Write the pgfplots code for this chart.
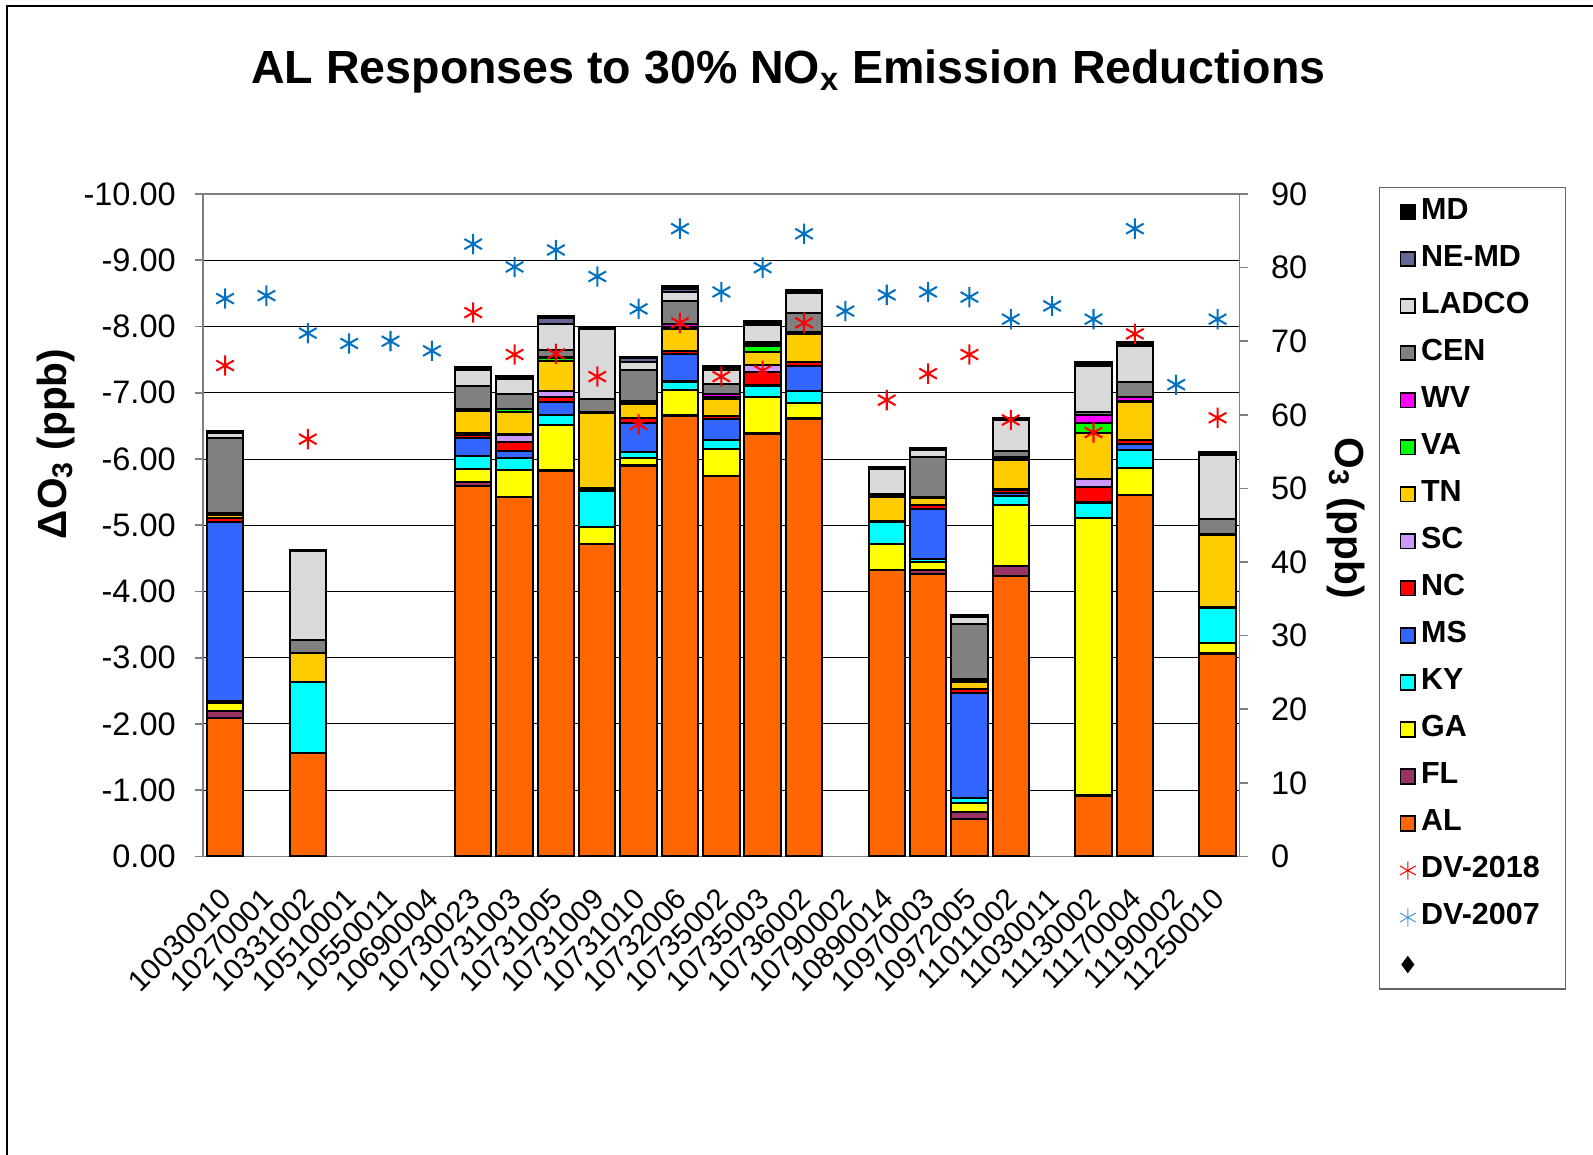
\documentclass[border=0pt]{standalone}
\usepackage{fontspec}
\setmainfont{Liberation Sans}
\usepackage{pgfplots}
\pgfplotsset{compat=1.18}
\usepackage{pgfplotstable}

\definecolor{cAL}{HTML}{FF6600}
\definecolor{cFL}{HTML}{993366}
\definecolor{cGA}{HTML}{FFFF00}
\definecolor{cKY}{HTML}{00FFFF}
\definecolor{cMS}{HTML}{3366FF}
\definecolor{cNC}{HTML}{FF0000}
\definecolor{cSC}{HTML}{CC99FF}
\definecolor{cTN}{HTML}{FFCC00}
\definecolor{cVA}{HTML}{00FF00}
\definecolor{cWV}{HTML}{FF00FF}
\definecolor{cCEN}{HTML}{808080}
\definecolor{cLADCO}{HTML}{D9D9D9}
\definecolor{cNEMD}{HTML}{666699}
\definecolor{cMD}{HTML}{000000}
\definecolor{cDVb}{HTML}{0070C0}
\definecolor{axgray}{HTML}{808080}

\pgfplotsset{
  legsq/.style={legend image code/.code={\draw[##1,draw=black,line width=0.9pt] (0pt,-3.6pt) rectangle (7.2pt,3.6pt);}},
  legmk/.style={legend image code/.code={\draw[##1] plot coordinates {(3.6pt,0pt)};}},
}

\pgfplotstableread{
x AL FL GA KY MS NC SC TN VA WV CEN LADCO NEMD MD
0 -2.09 -0.10 -0.13 -0.03 -2.70 -0.06 0 -0.05 -0.02 -0.01 -1.12 -0.08 -0.01 -0.03
2 -1.56 0 0 -1.07 0 0 0 -0.44 0 0 -0.20 -1.34 0 -0.02
6 -5.59 -0.06 -0.20 -0.19 -0.28 -0.05 -0.03 -0.32 -0.02 -0.01 -0.35 -0.24 -0.01 -0.04
7 -5.42 -0.01 -0.40 -0.18 -0.11 -0.13 -0.12 -0.34 -0.04 -0.01 -0.22 -0.23 -0.01 -0.04
8 -5.82 -0.01 -0.68 -0.16 -0.19 -0.08 -0.08 -0.46 -0.05 -0.01 -0.11 -0.39 -0.09 -0.03
9 -4.71 -0.01 -0.26 -0.54 -0.02 -0.02 0 -1.13 -0.01 -0.01 -0.20 -1.05 -0.01 -0.02
10 -5.90 -0.01 -0.11 -0.09 -0.44 -0.07 0 -0.21 -0.02 -0.02 -0.47 -0.12 -0.06 -0.02
11 -6.65 -0.01 -0.38 -0.13 -0.42 -0.04 0 -0.34 -0.03 -0.04 -0.34 -0.14 -0.05 -0.04
12 -5.74 -0.01 -0.40 -0.14 -0.31 -0.05 0 -0.26 -0.03 -0.04 -0.15 -0.21 -0.01 -0.05
13 -6.38 -0.01 -0.54 -0.18 -0.01 -0.20 -0.10 -0.19 -0.09 -0.04 -0.02 -0.26 -0.01 -0.05
14 -6.61 -0.01 -0.23 -0.18 -0.37 -0.06 0 -0.42 -0.01 -0.02 -0.29 -0.30 -0.01 -0.04
16 -4.32 -0.01 -0.38 -0.34 -0.01 -0.01 0 -0.36 -0.01 -0.01 -0.02 -0.38 -0.01 -0.02
17 -4.26 -0.07 -0.12 -0.04 -0.76 -0.05 0 -0.11 -0.01 -0.01 -0.60 -0.10 -0.01 -0.02
18 -0.56 -0.11 -0.14 -0.07 -1.59 -0.06 0 -0.11 -0.02 -0.02 -0.83 -0.11 -0.01 -0.02
19 -4.23 -0.16 -0.91 -0.14 -0.04 -0.05 -0.02 -0.44 -0.02 -0.02 -0.09 -0.47 -0.01 -0.02
21 -0.91 -0.01 -4.19 -0.23 -0.01 -0.23 -0.12 -0.70 -0.15 -0.11 -0.05 -0.70 -0.01 -0.04
22 -5.45 -0.01 -0.41 -0.26 -0.09 -0.06 0 -0.58 -0.01 -0.06 -0.23 -0.54 -0.04 -0.03
24 -3.06 -0.01 -0.15 -0.53 -0.01 -0.01 0 -1.08 -0.01 -0.01 -0.23 -0.96 -0.01 -0.04
}\bars

\pgfplotstableread{
x v
0 75.8
1 76.2
2 71.1
3 69.7
4 70.0
5 68.7
6 83.2
7 80.1
8 82.4
9 78.8
10 74.4
11 85.3
12 76.7
13 80.0
14 84.6
15 74.1
16 76.3
17 76.7
18 76.0
19 73.0
20 74.8
21 73.0
22 85.3
23 64.1
24 73.0
}\dvseven

\pgfplotstableread{
x v
0 66.7
2 56.7
6 73.9
7 68.2
8 68.3
9 65.2
10 58.7
11 72.5
12 65.2
13 66.0
14 72.5
16 62.0
17 65.6
18 68.2
19 59.3
21 57.6
22 71.0
24 59.6
}\dveight

\begin{document}
\begin{tikzpicture}[font=\fontsize{14}{16}\selectfont]
\useasboundingbox (-100pt,-146.5pt) rectangle (684pt,421.5pt);
\draw[line width=0.6pt] (-96.5pt,-150pt) -- (-96.5pt,418.5pt) -- (690pt,418.5pt);

\begin{axis}[
  at={(0pt,0pt)}, anchor=south west,
  scale only axis, width=510pt, height=326pt,
  xmin=-0.53, xmax=24.53,
  ymin=-10, ymax=0, y dir=reverse,
  ybar stacked, bar width=0.88,
  axis line style={axgray, line width=0.8pt},
  ytick={-10,-9,...,0},
  ytick pos=left,
  yticklabel style={/pgf/number format/fixed, /pgf/number format/fixed zerofill, /pgf/number format/precision=2, font=\fontsize{16}{18}\selectfont, xshift=-6pt},
  /pgf/number format/assume math mode=true,
  tick align=outside, major tick length=4pt,
  ytick style={axgray, line width=0.8pt},
  ymajorgrids, grid style={black, line width=0.5pt},
  xtick={0,...,24},
  xtick style={draw=none},
  xticklabels={10030010,10270001,10331002,10510001,10550011,10690004,10730023,10731003,10731005,10731009,10731010,10732006,10735002,10735003,10736002,10790002,10890014,10970003,10972005,11011002,11030011,11130002,11170004,11190002,11250010},
  x tick label style={xshift=1.5pt, yshift=-13.5pt, rotate=45, anchor=east, inner sep=1pt, font=\fontsize{14.5}{16}\selectfont},
  every axis plot/.append style={draw=black, line width=1pt},
]
\addplot[fill=cAL] table[x=x,y=AL] {\bars};
\addplot[fill=cFL] table[x=x,y=FL] {\bars};
\addplot[fill=cGA] table[x=x,y=GA] {\bars};
\addplot[fill=cKY] table[x=x,y=KY] {\bars};
\addplot[fill=cMS] table[x=x,y=MS] {\bars};
\addplot[fill=cNC] table[x=x,y=NC] {\bars};
\addplot[fill=cSC] table[x=x,y=SC] {\bars};
\addplot[fill=cTN] table[x=x,y=TN] {\bars};
\addplot[fill=cVA] table[x=x,y=VA] {\bars};
\addplot[fill=cWV] table[x=x,y=WV] {\bars};
\addplot[fill=cCEN] table[x=x,y=CEN] {\bars};
\addplot[fill=cLADCO] table[x=x,y=LADCO] {\bars};
\addplot[fill=cNEMD] table[x=x,y=NEMD] {\bars};
\addplot[fill=cMD] table[x=x,y=MD] {\bars};
\end{axis}

\begin{axis}[
  at={(0pt,0pt)}, anchor=south west,
  scale only axis, width=510pt, height=326pt,
  xmin=-0.53, xmax=24.53,
  ymin=0, ymax=90,
  axis x line=none,
  axis y line*=right,
  axis line style={axgray, line width=0.8pt, -},
  ytick={0,10,...,90},
  tick align=outside, major tick length=4pt,
  ytick style={axgray, line width=0.8pt},
  /pgf/number format/assume math mode=true,
  yticklabel style={font=\fontsize{16}{18}\selectfont, xshift=8pt},
  legend style={at={(axis description cs:1,1)}, anchor=north west, xshift=68.5pt, yshift=3.5pt,
    draw=axgray!80!black, line width=0.6pt, font=\bfseries\fontsize{15}{17}\selectfont,
    row sep=8.15pt, inner xsep=10pt, inner ysep=4.5pt,
    nodes={text height=11pt, text depth=4pt, inner ysep=0pt, inner xsep=2.5pt}},
  legend cell align=left,
]
\addlegendimage{legsq, fill=cMD}\addlegendentry{MD}
\addlegendimage{legsq, fill=cNEMD}\addlegendentry{NE-MD}
\addlegendimage{legsq, fill=cLADCO}\addlegendentry{LADCO}
\addlegendimage{legsq, fill=cCEN}\addlegendentry{CEN}
\addlegendimage{legsq, fill=cWV}\addlegendentry{WV}
\addlegendimage{legsq, fill=cVA}\addlegendentry{VA}
\addlegendimage{legsq, fill=cTN}\addlegendentry{TN}
\addlegendimage{legsq, fill=cSC}\addlegendentry{SC}
\addlegendimage{legsq, fill=cNC}\addlegendentry{NC}
\addlegendimage{legsq, fill=cMS}\addlegendentry{MS}
\addlegendimage{legsq, fill=cKY}\addlegendentry{KY}
\addlegendimage{legsq, fill=cGA}\addlegendentry{GA}
\addlegendimage{legsq, fill=cFL}\addlegendentry{FL}
\addlegendimage{legsq, fill=cAL}\addlegendentry{AL}
\addlegendimage{legmk, red, mark=asterisk, mark size=4.5pt, line width=0.5pt}\addlegendentry{DV-2018}
\addlegendimage{legmk, cDVb!70, mark=asterisk, mark size=4.5pt, line width=0.5pt}\addlegendentry{DV-2007}
\addlegendimage{legmk, black, mark=diamond*, mark size=3.8pt}\addlegendentry{}
\addplot[only marks, mark=asterisk, mark size=5pt, line width=1pt, color=cDVb] table[x=x,y=v] {\dvseven};
\addplot[only marks, mark=asterisk, mark size=5pt, line width=1pt, color=red] table[x=x,y=v] {\dveight};
\end{axis}

\node[font=\bfseries\fontsize{22.9}{26}\selectfont] at (288pt,386.5pt) {AL Responses to 30\% NO\textsubscript{x} Emission Reductions};
\node[rotate=90, font=\bfseries\fontsize{20}{22}\selectfont] at (-72.5pt,203pt) {ΔO\textsubscript{3} (ppb)};
\node[rotate=-90, font=\bfseries\fontsize{20}{22}\selectfont] at (562.5pt,166.5pt) {O\textsubscript{3} (ppb)};
\end{tikzpicture}
\end{document}
